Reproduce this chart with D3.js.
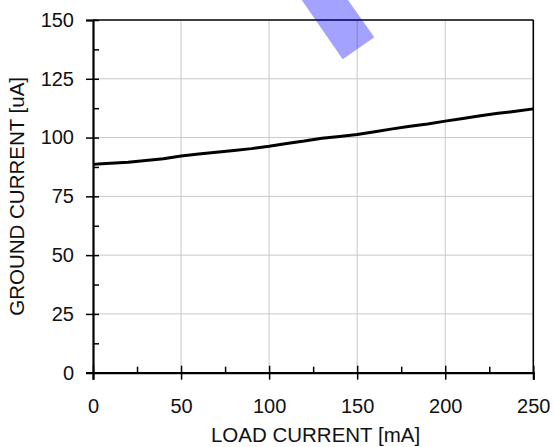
<!DOCTYPE html>
<html>
<head>
<meta charset="utf-8">
<script src="https://cdn.jsdelivr.net/npm/d3@7"></script>
<style>
  html, body { margin: 0; padding: 0; background: #fff; }
  svg { display: block; font-family: "Liberation Sans", Arial, sans-serif; }
</style>
</head>
<body>
<svg id="chart" width="554" height="447"></svg>
<script>
const loadCurrent = [0, 5, 10, 20, 30, 40, 50, 60, 70, 80, 90, 100, 110, 120, 130, 140, 150, 160, 170, 180, 190, 200, 210, 220, 230, 240, 250];
const groundCurrent = [88.6, 88.9, 89.1, 89.5, 90.2, 91.0, 92.2, 93.0, 93.8, 94.5, 95.3, 96.3, 97.5, 98.5, 99.7, 100.5, 101.3, 102.5, 103.7, 104.8, 105.8, 107.0, 108.1, 109.3, 110.3, 111.2, 112.2];
const xTicks = [0, 50, 100, 150, 200, 250];
const xMinorTicks = [25, 75, 125, 175, 225];
const yTicks = [0, 25, 50, 75, 100, 125, 150];
const yMinorTicks = [12.5, 37.5, 62.5, 87.5, 112.5, 137.5];
const xTitle = "LOAD CURRENT [mA]";
const yTitle = "GROUND CURRENT [uA]";

const svg = d3.select("#chart");
const m = { left: 93, right: 533.3, top: 20, bottom: 372.7 };
const x = d3.scaleLinear().domain([0, 250]).range([m.left, m.right]);
const y = d3.scaleLinear().domain([0, 150]).range([m.bottom, m.top]);

// gridlines
const grid = svg.append("g").attr("stroke", "#c8c8c8").attr("stroke-width", 1);
grid.selectAll(".gx").data(xTicks.slice(1, -1)).join("line")
  .attr("x1", d => x(d)).attr("x2", d => x(d)).attr("y1", m.top).attr("y2", m.bottom);
grid.selectAll(".gy").data(yTicks.slice(1, -1)).join("line")
  .attr("x1", m.left).attr("x2", m.right).attr("y1", d => y(d)).attr("y2", d => y(d));

// frame top/right
svg.append("line").attr("x1", m.left).attr("x2", m.right).attr("y1", m.top).attr("y2", m.top)
  .attr("stroke", "#000").attr("stroke-width", 1.6);
svg.append("line").attr("x1", m.right).attr("x2", m.right).attr("y1", m.top).attr("y2", m.bottom)
  .attr("stroke", "#000").attr("stroke-width", 1.6);

// axes
const fs = 20;
const xAxis = svg.append("g").attr("transform", `translate(0,${m.bottom})`)
  .call(d3.axisBottom(x).tickValues(xTicks).tickSize(7).tickPadding(19).tickFormat(d3.format("d")));
xAxis.selectAll(".tick line").attr("y1", -7).attr("stroke-width", 1.5);
xAxis.select(".domain").attr("stroke-width", 2.2);
xAxis.selectAll("text").attr("font-size", fs).attr("fill", "#111");
svg.append("g").attr("transform", `translate(0,${m.bottom})`)
  .call(d3.axisBottom(x).tickValues(xMinorTicks).tickSize(-6).tickFormat(""))
  .call(g => g.select(".domain").remove())
  .selectAll("line").attr("stroke-width", 1.5);

const yAxis = svg.append("g").attr("transform", `translate(${m.left},0)`)
  .call(d3.axisLeft(y).tickValues(yTicks).tickSize(7).tickPadding(12).tickFormat(d3.format("d")));
yAxis.selectAll(".tick line").attr("x1", 6).attr("stroke-width", 1.5);
yAxis.select(".domain").attr("stroke-width", 2.2);
yAxis.selectAll("text").attr("font-size", fs).attr("fill", "#111");
svg.append("g").attr("transform", `translate(${m.left},0)`)
  .call(d3.axisLeft(y).tickValues(yMinorTicks).tickSize(-6).tickFormat(""))
  .call(g => g.select(".domain").remove())
  .selectAll("line").attr("stroke-width", 1.5);

// data line
svg.append("path").datum(loadCurrent.map((v, i) => [v, groundCurrent[i]]))
  .attr("fill", "none").attr("stroke", "#000").attr("stroke-width", 3)
  .attr("stroke-linejoin", "round")
  .attr("d", d3.line().x(d => x(d[0])).y(d => y(d[1])));

// titles
svg.append("text").attr("x", 315.5).attr("y", 442)
  .attr("text-anchor", "middle").attr("font-size", 20.5).attr("fill", "#111").text(xTitle);
svg.append("text").attr("transform", `translate(24,${(m.top + m.bottom) / 2}) rotate(-90)`)
  .attr("text-anchor", "middle").attr("font-size", 20.5).attr("fill", "#111").text(yTitle);

// translucent blue marker stroke
svg.append("path")
  .attr("d", "M301.7,0 L348,0 L374.3,37.3 L342.7,59.3 Z")
  .attr("fill", "#0000ff").attr("fill-opacity", 0.36);
</script>
</body>
</html>
